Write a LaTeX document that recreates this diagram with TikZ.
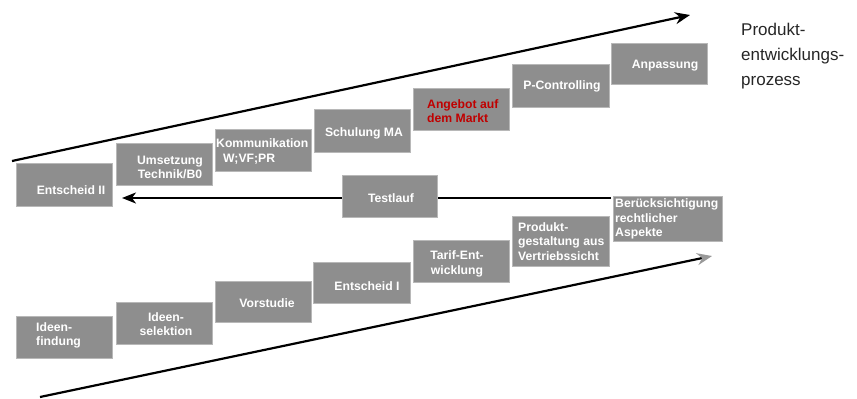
\documentclass[tikz,border=0pt]{standalone}
\usepackage{fontspec}
\setmainfont{Liberation Sans}
\usetikzlibrary{arrows.meta}
\definecolor{boxgray}{HTML}{8E8E8E}
\definecolor{boxedge}{HTML}{B8B8B8}
\definecolor{redtext}{HTML}{C00000}
\tikzset{
  box/.style={draw=boxedge, line width=1pt, fill=boxgray, inner sep=0pt},
  lbl/.style={text=white, font=\fontsize{12.2}{14.5}\selectfont\bfseries, inner sep=0pt},
  bigarrow/.style={line width=2.2pt, -{Stealth[length=15pt,width=12pt,inset=5pt]}},
  backarrow/.style={line width=1.8pt, -{Stealth[length=14pt,width=11pt,inset=4pt]}}
}
\newcommand{\mybox}[5]{%
  \node[box, minimum width={#3-#1}, minimum height={#4-#2}] (#5) at ({(#1+#3)/2},{(#2+#4)/2}) {};}
\begin{document}
\begin{tikzpicture}[x=1pt,y=-1pt]
\useasboundingbox (0,0) rectangle (857,399);
% arrows behind boxes
\coordinate (topA) at (12,161);
\coordinate (topB) at (690,15);
\draw[bigarrow] (topA) -- (topB);
\coordinate (botA) at (40,397);
\coordinate (botB) at (712,256);
\draw[bigarrow, -{Stealth[length=15pt,width=12pt,inset=5pt,fill=gray!80,color=gray!80]}] (botA) -- (botB);
\coordinate (backA) at (611,198);
\coordinate (backB) at (122,198);
\draw[backarrow] (backA) -- (backB);
% bottom row
\mybox{16}{316}{112}{358}{b1}
\mybox{116}{302}{212}{344}{b2}
\mybox{215}{281}{311}{322}{b3}
\mybox{313}{262}{410}{303}{b4}
\mybox{413}{240}{509}{282}{b5}
\mybox{512}{216}{609}{266}{b6}
\mybox{613}{196}{722}{241}{b7}
% top row
\mybox{16}{163}{112}{206}{t1}
\mybox{116}{143}{212}{185}{t2}
\mybox{215}{129}{311}{171}{t3}
\mybox{314}{109}{410}{152}{t4}
\mybox{413}{88}{509}{130}{t5}
\mybox{512}{64}{609}{107}{t6}
\mybox{611}{43}{707}{84}{t7}
% test
\mybox{342}{175}{437}{217}{tl}
% labels
\node[lbl, anchor=west, align=left] (lb1) at (36,335.5) {Ideen-\\findung};
\node[lbl, align=center] (lb2) at (166,324) {Ideen-\\selektion};
\node[lbl] (lb3) at (267,303) {Vorstudie};
\node[lbl] (lb4) at (367,286) {Entscheid I};
\node[lbl, align=center] (lb5) at (457,264) {Tarif-Ent-\\wicklung};
\node[lbl, anchor=west, align=left] (lb6) at (518,241.5) {Produkt-\\gestaltung aus\\Vertriebssicht};
\node[lbl, anchor=west, align=left] (lb7) at (615,219) {Berücksichtigung\\rechtlicher\\Aspekte};
\node[lbl] (lt1) at (71,190) {Entscheid II};
\node[lbl, align=center] (lt2) at (170,167.5) {Umsetzung\\Technik/B0};
\node[lbl, anchor=west, align=left] (lt3) at (216,151.5) {Kommunikation\\\hspace*{7pt}W;VF;PR};
\node[lbl] (lt4) at (364,133) {Schulung MA};
\node[lbl, anchor=west, align=left, text=redtext] (lt5) at (427,111) {Angebot auf\\dem Markt};
\node[lbl] (lt6) at (562,86) {P-Controlling};
\node[lbl] (lt7) at (665,66) {Anpassung};
\node[lbl] (ltl) at (391,198) {Testlauf};
\node[anchor=north west, align=left, inner sep=0pt, font=\fontsize{17}{25}\selectfont, text=black!85] (title) at (741,23) {Produkt-\\entwicklungs-\\prozess};
\end{tikzpicture}
\end{document}
